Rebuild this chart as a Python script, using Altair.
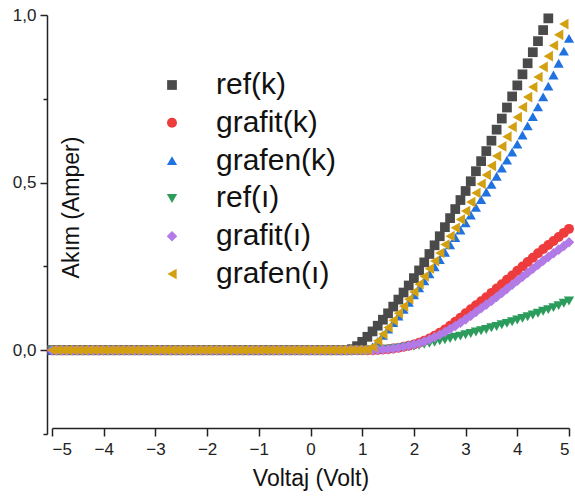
import altair as alt
import pandas as pd

volt = [-5.0, -4.9, -4.8, -4.7, -4.6, -4.5, -4.4, -4.3, -4.2, -4.1,
        -4.0, -3.9, -3.8, -3.7, -3.6, -3.5, -3.4, -3.3, -3.2, -3.1,
        -3.0, -2.9, -2.8, -2.7, -2.6, -2.5, -2.4, -2.3, -2.2, -2.1,
        -2.0, -1.9, -1.8, -1.7, -1.6, -1.5, -1.4, -1.3, -1.2, -1.1,
        -1.0, -0.9, -0.8, -0.7, -0.6, -0.5, -0.4, -0.3, -0.2, -0.1,
        0.0, 0.1, 0.2, 0.3, 0.4, 0.5, 0.6, 0.7, 0.8, 0.9,
        1.0, 1.1, 1.2, 1.3, 1.4, 1.5, 1.6, 1.7, 1.8, 1.9,
        2.0, 2.1, 2.2, 2.3, 2.4, 2.5, 2.6, 2.7, 2.8, 2.9,
        3.0, 3.1, 3.2, 3.3, 3.4, 3.5, 3.6, 3.7, 3.8, 3.9,
        4.0, 4.1, 4.2, 4.3, 4.4, 4.5, 4.6, 4.7, 4.8, 4.9,
        5.0]

ref_k = [0, 0, 0, 0, 0, 0, 0, 0, 0, 0,
         0, 0, 0, 0, 0, 0, 0, 0, 0, 0,
         0, 0, 0, 0, 0, 0, 0, 0, 0, 0,
         0, 0, 0, 0, 0, 0, 0, 0, 0, 0,
         0, 0, 0, 0, 0, 0, 0, 0, 0, 0,
         0, 0, 0, 0, 0, 0, 0, 0, 0.003, 0.012,
         0.025, 0.040, 0.056, 0.073, 0.091, 0.110, 0.130, 0.151, 0.172, 0.193,
         0.215, 0.238, 0.262, 0.287, 0.313, 0.340, 0.367, 0.394, 0.421, 0.448,
         0.475, 0.504, 0.534, 0.564, 0.594, 0.625, 0.658, 0.691, 0.724, 0.757,
         0.790, 0.823, 0.856, 0.889, 0.922, 0.955, 0.990]

grafit_k = [0, 0, 0, 0, 0, 0, 0, 0, 0, 0,
            0, 0, 0, 0, 0, 0, 0, 0, 0, 0,
            0, 0, 0, 0, 0, 0, 0, 0, 0, 0,
            0, 0, 0, 0, 0, 0, 0, 0, 0, 0,
            0, 0, 0, 0, 0, 0, 0, 0, 0, 0,
            0, 0, 0, 0, 0, 0, 0, 0, 0, 0,
            0, 0, 0, 0.001, 0.002, 0.003, 0.005, 0.007, 0.010, 0.013,
            0.017, 0.022, 0.028, 0.035, 0.043, 0.052, 0.062, 0.073, 0.085, 0.097,
            0.110, 0.122, 0.134, 0.146, 0.158, 0.171, 0.184, 0.197, 0.210, 0.223,
            0.237, 0.250, 0.263, 0.276, 0.289, 0.302, 0.314, 0.326, 0.338, 0.350,
            0.362]

grafen_k = [0, 0, 0, 0, 0, 0, 0, 0, 0, 0,
            0, 0, 0, 0, 0, 0, 0, 0, 0, 0,
            0, 0, 0, 0, 0, 0, 0, 0, 0, 0,
            0, 0, 0, 0, 0, 0, 0, 0, 0, 0,
            0, 0, 0, 0, 0, 0, 0, 0, 0, 0,
            0, 0, 0, 0, 0, 0, 0, 0, 0, 0,
            0, 0.002, 0.010, 0.026, 0.044, 0.063, 0.082, 0.102, 0.122, 0.143,
            0.165, 0.186, 0.207, 0.228, 0.249, 0.270, 0.292, 0.314, 0.336, 0.358,
            0.380, 0.403, 0.426, 0.449, 0.472, 0.495, 0.519, 0.543, 0.567, 0.591,
            0.615, 0.642, 0.669, 0.697, 0.726, 0.756, 0.788, 0.821, 0.856, 0.892,
            0.930]

ref_i = [0, 0, 0, 0, 0, 0, 0, 0, 0, 0,
         0, 0, 0, 0, 0, 0, 0, 0, 0, 0,
         0, 0, 0, 0, 0, 0, 0, 0, 0, 0,
         0, 0, 0, 0, 0, 0, 0, 0, 0, 0,
         0, 0, 0, 0, 0, 0, 0, 0, 0, 0,
         0, 0, 0, 0, 0, 0, 0, 0, 0, 0,
         0, 0, 0, 0.001, 0.002, 0.003, 0.004, 0.006, 0.008, 0.010,
         0.012, 0.015, 0.018, 0.021, 0.024, 0.028, 0.031, 0.035, 0.039, 0.042,
         0.046, 0.050, 0.054, 0.058, 0.062, 0.067, 0.071, 0.076, 0.080, 0.085,
         0.090, 0.095, 0.100, 0.105, 0.110, 0.116, 0.121, 0.127, 0.133, 0.140,
         0.147]

grafit_i = [0, 0, 0, 0, 0, 0, 0, 0, 0, 0,
            0, 0, 0, 0, 0, 0, 0, 0, 0, 0,
            0, 0, 0, 0, 0, 0, 0, 0, 0, 0,
            0, 0, 0, 0, 0, 0, 0, 0, 0, 0,
            0, 0, 0, 0, 0, 0, 0, 0, 0, 0,
            0, 0, 0, 0, 0, 0, 0, 0, 0, 0,
            0, 0, 0, 0.001, 0.002, 0.003, 0.005, 0.007, 0.010, 0.013,
            0.017, 0.021, 0.026, 0.032, 0.039, 0.046, 0.054, 0.063, 0.072, 0.082,
            0.092, 0.103, 0.114, 0.125, 0.136, 0.147, 0.159, 0.171, 0.183, 0.195,
            0.207, 0.219, 0.231, 0.243, 0.255, 0.267, 0.278, 0.289, 0.300, 0.311,
            0.322]

grafen_i = [0, 0, 0, 0, 0, 0, 0, 0, 0, 0,
            0, 0, 0, 0, 0, 0, 0, 0, 0, 0,
            0, 0, 0, 0, 0, 0, 0, 0, 0, 0,
            0, 0, 0, 0, 0, 0, 0, 0, 0, 0,
            0, 0, 0, 0, 0, 0, 0, 0, 0, 0,
            0, 0, 0, 0, 0, 0, 0, 0, 0, 0,
            0, 0.002, 0.010, 0.028, 0.048, 0.068, 0.089, 0.110, 0.131, 0.152,
            0.174, 0.197, 0.220, 0.243, 0.266, 0.290, 0.315, 0.340, 0.365, 0.390,
            0.415, 0.442, 0.469, 0.496, 0.523, 0.550, 0.579, 0.608, 0.637, 0.666,
            0.695, 0.725, 0.755, 0.785, 0.815, 0.845, 0.877, 0.909, 0.941, 0.973]

names = ["ref(k)", "grafit(k)", "grafen(k)", "ref(ı)", "grafit(ı)", "grafen(ı)"]
colors = ["#4a4a4a", "#ee3b3b", "#1f72e0", "#2c9c5c", "#b27ae6", "#d3a011"]
shapes = ["square", "circle", "triangle-up", "triangle-down", "diamond", "triangle-left"]
sizes = [95, 115, 170, 170, 150, 170]
series = [ref_k, grafit_k, grafen_k, ref_i, grafit_i, grafen_i]

rows = []
for n, vals in zip(names, series):
    for v, i in zip(volt, vals):
        rows.append({"V": v, "I": i, "s": n})
df = pd.DataFrame(rows)

FONT = "Liberation Sans"

legend = alt.Legend(
    title=None, orient="none", legendX=105, legendY=55,
    labelFontSize=30, labelFont=FONT, labelColor="#111",
    symbolSize=70, rowPadding=7.8, labelOffset=29, padding=0,
    symbolStrokeWidth=0,
)

chart = alt.Chart(df).mark_point(filled=True, opacity=1).encode(
    x=alt.X("V:Q",
            scale=alt.Scale(domain=[-5, 5], nice=False, zero=False),
            axis=alt.Axis(values=[-5, -4, -3, -2, -1, 0, 1, 2, 3, 4, 5],
                          title="Voltaj (Volt)", offset=-6, grid=False,
                          tickSize=8, tickColor="#222", domainColor="#222",
                          domainWidth=1.5, tickWidth=1.5,
                          labelFontSize=17, labelFont=FONT, labelColor="#222",
                          labelPadding=5, titleFontSize=23, titleFont=FONT,
                          titleFontWeight="normal", titleColor="#111",
                          titlePadding=10)),
    y=alt.Y("I:Q",
            scale=alt.Scale(domain=[-0.25, 1.0], nice=False, zero=False),
            axis=alt.Axis(values=[-0.25, 0, 0.25, 0.5, 0.75, 1.0],
                          labelExpr="indexof([0, 0.5, 1], datum.value) >= 0 ? replace(format(datum.value, '.1f'), '.', ',') : ''",
                          title="Akım (Amper)", offset=5, grid=False,
                          tickSize={"condition": {"test": "indexof([0, 0.5, 1], datum.value) >= 0", "value": 7}, "value": 4},
                          tickColor="#222", domainColor="#222",
                          domainWidth=1.5, tickWidth=1.5,
                          labelFontSize=17, labelFont=FONT, labelColor="#222",
                          labelPadding=4, titleFontSize=23, titleFont=FONT,
                          titleFontWeight="normal", titleColor="#111",
                          titleX=24, titleY=192, titleBaseline="middle")),
    color=alt.Color("s:N", scale=alt.Scale(domain=names, range=colors), legend=legend),
    shape=alt.Shape("s:N", scale=alt.Scale(domain=names, range=shapes), legend=legend),
    size=alt.Size("s:N", scale=alt.Scale(domain=names, range=sizes), legend=None),
).properties(
    width=517, height=419,
    padding={"left": 52, "top": 15, "right": 6, "bottom": 64},
    autosize="none",
).configure_view(stroke=None)

chart.save("out.html", embed_options={"renderer": "svg", "actions": False})
